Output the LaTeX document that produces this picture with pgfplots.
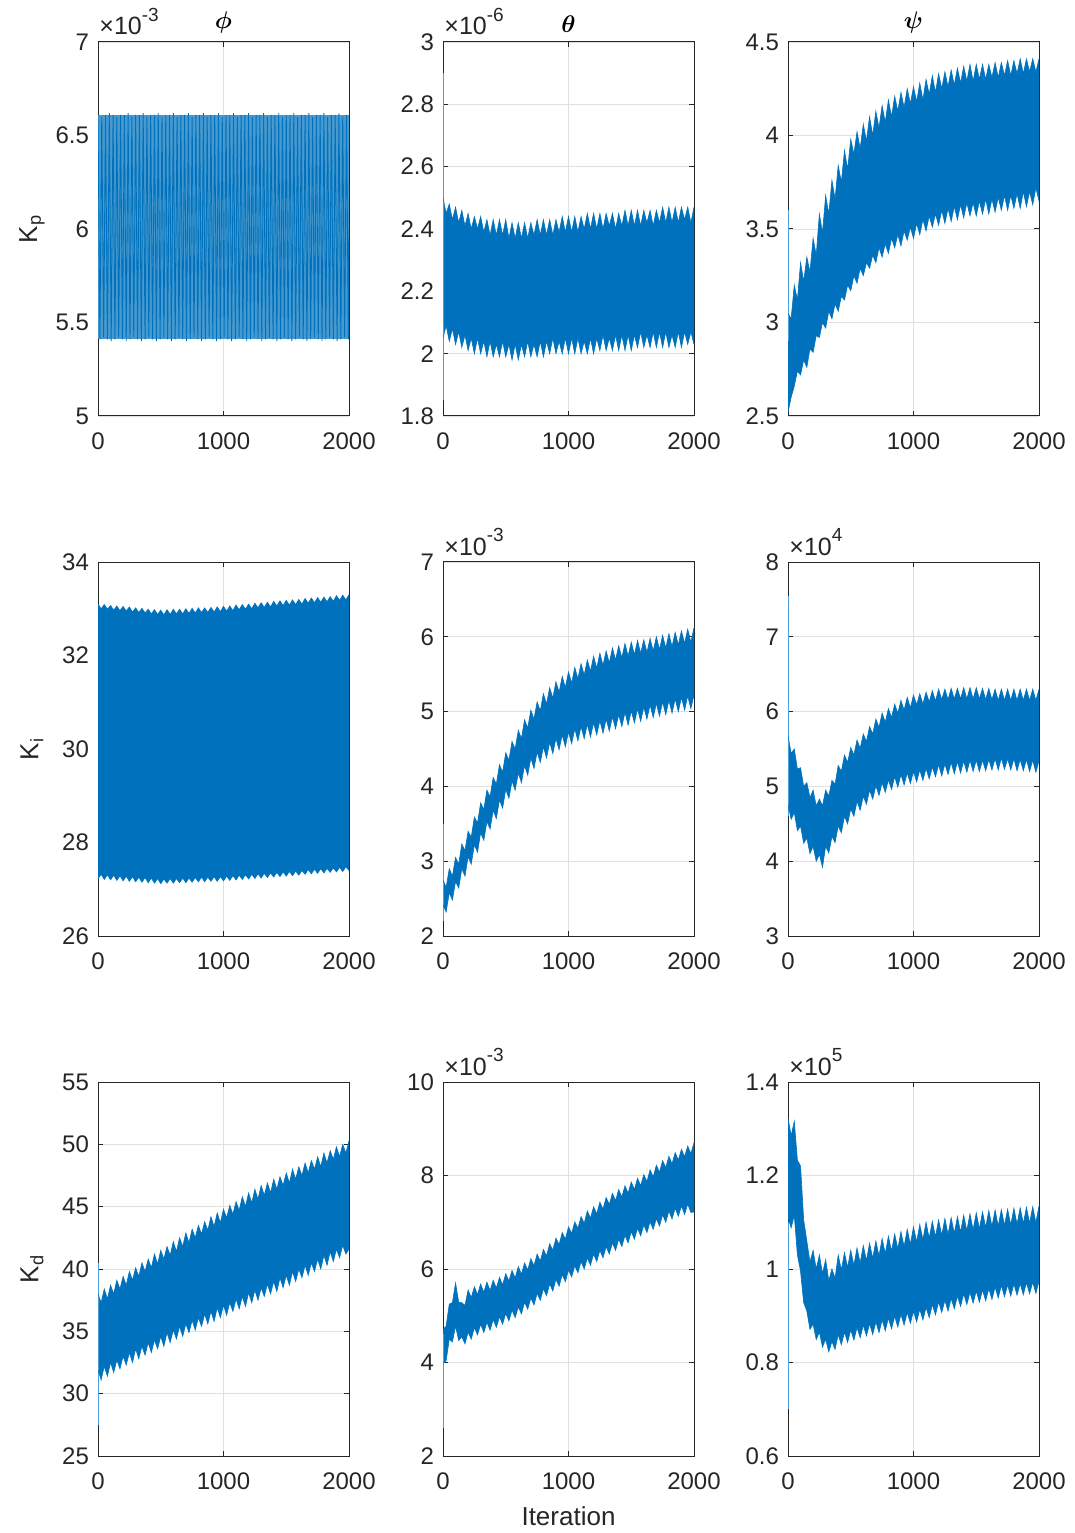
\documentclass[border=0pt]{standalone}
\usepackage{fontspec}
\setmainfont{Liberation Sans}
\usepackage{bm}
\usepackage{pgfplots}
\usepackage{pgfplotstable}
\usepgfplotslibrary{groupplots,fillbetween}
\pgfplotsset{compat=1.18}

\definecolor{mblue}{RGB}{0,114,189}
\definecolor{mspike}{RGB}{77,160,220}
\definecolor{axgray}{RGB}{38,38,38}

% Envelopes (upper u, lower l) of the gain histories, sampled every 25 iterations
% phi, Kp (x 1e-3): outer bounds of the oscillation
\pgfplotstableread{
x u l
0 6.61 5.41
2000 6.61 5.41
}\tPhiKp

% theta, Kp (x 1e-6)
\pgfplotstableread{
x u l
0 2.50 2.05
25 2.45 2.09
50 2.48 2.04
75 2.43 2.08
100 2.47 2.03
125 2.42 2.07
150 2.46 2.02
175 2.41 2.06
200 2.45 2.01
225 2.40 2.05
250 2.44 2.00
275 2.40 2.05
300 2.44 2.00
325 2.39 2.04
350 2.43 1.99
375 2.38 2.04
400 2.43 1.99
425 2.38 2.03
450 2.43 1.99
475 2.38 2.04
500 2.43 1.99
525 2.37 2.03
550 2.42 1.98
575 2.37 2.03
600 2.42 1.98
625 2.37 2.03
650 2.42 1.99
675 2.37 2.04
700 2.42 1.99
725 2.38 2.03
750 2.43 1.99
775 2.38 2.04
800 2.43 1.99
825 2.38 2.04
850 2.43 2.00
875 2.38 2.05
900 2.43 2.00
925 2.39 2.04
950 2.44 2.00
975 2.39 2.05
1000 2.44 2.00
1025 2.39 2.05
1050 2.44 2.00
1075 2.39 2.05
1100 2.44 2.00
1125 2.40 2.04
1150 2.45 2.00
1175 2.40 2.05
1200 2.45 2.00
1225 2.40 2.05
1250 2.45 2.01
1275 2.40 2.06
1300 2.45 2.01
1325 2.41 2.05
1350 2.45 2.01
1375 2.40 2.06
1400 2.45 2.01
1425 2.41 2.06
1450 2.46 2.01
1475 2.41 2.06
1500 2.46 2.01
1525 2.41 2.06
1550 2.46 2.02
1575 2.41 2.07
1600 2.46 2.02
1625 2.42 2.06
1650 2.46 2.02
1675 2.41 2.07
1700 2.46 2.02
1725 2.42 2.07
1750 2.47 2.02
1775 2.42 2.07
1800 2.47 2.02
1825 2.42 2.06
1850 2.47 2.02
1875 2.42 2.07
1900 2.47 2.02
1925 2.43 2.07
1950 2.47 2.03
1975 2.42 2.07
2000 2.47 2.03
}\tThetaKp

% psi, Kp
\pgfplotstableread{
x u l
0 3.05 2.52
25 3.02 2.60
50 3.20 2.66
75 3.12 2.74
100 3.32 2.72
125 3.22 2.80
150 3.35 2.76
175 3.27 2.86
200 3.45 2.84
225 3.36 2.93
250 3.58 2.92
275 3.48 3.00
300 3.68 2.97
325 3.58 3.06
350 3.76 3.02
375 3.66 3.10
400 3.84 3.06
425 3.75 3.14
450 3.92 3.12
475 3.82 3.20
500 3.98 3.17
525 3.90 3.25
550 4.02 3.21
575 3.93 3.29
600 4.06 3.25
625 3.97 3.32
650 4.10 3.29
675 4.00 3.36
700 4.13 3.32
725 4.04 3.40
750 4.16 3.35
775 4.07 3.42
800 4.19 3.37
825 4.10 3.45
850 4.21 3.40
875 4.13 3.47
900 4.23 3.41
925 4.15 3.49
950 4.25 3.44
975 4.17 3.51
1000 4.26 3.45
1025 4.18 3.53
1050 4.28 3.47
1075 4.19 3.55
1100 4.30 3.49
1125 4.22 3.57
1150 4.32 3.51
1175 4.23 3.58
1200 4.33 3.52
1225 4.25 3.60
1250 4.34 3.53
1275 4.26 3.61
1300 4.35 3.54
1325 4.27 3.62
1350 4.36 3.55
1375 4.28 3.63
1400 4.37 3.56
1425 4.29 3.64
1450 4.38 3.57
1475 4.29 3.64
1500 4.38 3.57
1525 4.30 3.65
1550 4.38 3.58
1575 4.30 3.66
1600 4.38 3.58
1625 4.31 3.66
1650 4.39 3.59
1675 4.31 3.67
1700 4.39 3.60
1725 4.32 3.68
1750 4.40 3.60
1775 4.32 3.68
1800 4.40 3.61
1825 4.33 3.69
1850 4.41 3.61
1875 4.33 3.70
1900 4.41 3.62
1925 4.34 3.70
1950 4.41 3.63
1975 4.34 3.72
2000 4.41 3.65
}\tPsiKp

% phi, Ki
\pgfplotstableread{
x u l
0 33.10 27.22
25 33.00 27.32
50 33.09 27.21
75 32.99 27.31
100 33.07 27.20
125 32.97 27.30
150 33.06 27.19
175 32.96 27.29
200 33.05 27.18
225 32.95 27.28
250 33.04 27.17
275 32.93 27.27
300 33.02 27.16
325 32.92 27.26
350 33.01 27.15
375 32.91 27.25
400 32.99 27.14
425 32.89 27.24
450 32.98 27.13
475 32.88 27.23
500 32.97 27.12
525 32.87 27.22
550 32.98 27.13
575 32.88 27.23
600 32.99 27.13
625 32.89 27.23
650 32.99 27.14
675 32.89 27.24
700 33.00 27.14
725 32.90 27.24
750 33.01 27.15
775 32.91 27.25
800 33.02 27.16
825 32.92 27.26
850 33.02 27.16
875 32.92 27.26
900 33.03 27.17
925 32.93 27.27
950 33.04 27.17
975 32.94 27.27
1000 33.05 27.18
1025 32.95 27.28
1050 33.06 27.19
1075 32.96 27.29
1100 33.08 27.20
1125 32.98 27.30
1150 33.09 27.21
1175 32.99 27.31
1200 33.10 27.22
1225 33.00 27.32
1250 33.12 27.23
1275 33.02 27.33
1300 33.13 27.24
1325 33.03 27.34
1350 33.14 27.25
1375 33.04 27.35
1400 33.16 27.26
1425 33.06 27.36
1450 33.17 27.27
1475 33.07 27.37
1500 33.18 27.28
1525 33.08 27.38
1550 33.19 27.29
1575 33.09 27.39
1600 33.20 27.30
1625 33.10 27.40
1650 33.22 27.32
1675 33.12 27.42
1700 33.23 27.33
1725 33.13 27.43
1750 33.24 27.34
1775 33.14 27.44
1800 33.25 27.35
1825 33.15 27.45
1850 33.26 27.36
1875 33.16 27.46
1900 33.28 27.37
1925 33.18 27.47
1950 33.29 27.38
1975 33.19 27.48
2000 33.30 27.40
}\tPhiKi

% theta, Ki (x 1e-3)
\pgfplotstableread{
x u l
0 2.75 2.42
25 2.65 2.32
50 2.90 2.58
75 2.80 2.48
100 3.05 2.73
125 2.96 2.64
150 3.23 2.90
175 3.14 2.80
200 3.40 3.06
225 3.32 2.96
250 3.59 3.22
275 3.51 3.12
300 3.78 3.38
325 3.69 3.28
350 3.95 3.53
375 3.86 3.43
400 4.12 3.68
425 4.03 3.57
450 4.29 3.82
475 4.19 3.71
500 4.45 3.96
525 4.35 3.84
550 4.60 4.07
575 4.50 3.95
600 4.75 4.18
625 4.64 4.05
650 4.89 4.28
675 4.78 4.15
700 5.02 4.38
725 4.90 4.24
750 5.13 4.46
775 5.01 4.32
800 5.24 4.53
825 5.10 4.38
850 5.32 4.59
875 5.18 4.44
900 5.40 4.64
925 5.26 4.49
950 5.47 4.69
975 5.32 4.53
1000 5.53 4.73
1025 5.38 4.57
1050 5.59 4.77
1075 5.44 4.61
1100 5.64 4.80
1125 5.49 4.64
1150 5.69 4.83
1175 5.54 4.66
1200 5.74 4.85
1225 5.58 4.69
1250 5.78 4.88
1275 5.62 4.71
1300 5.81 4.90
1325 5.65 4.74
1350 5.85 4.93
1375 5.69 4.77
1400 5.88 4.96
1425 5.72 4.80
1450 5.91 4.99
1475 5.74 4.82
1500 5.93 5.01
1525 5.76 4.85
1550 5.95 5.04
1575 5.78 4.87
1600 5.96 5.06
1625 5.79 4.90
1650 5.98 5.09
1675 5.81 4.92
1700 6.00 5.11
1725 5.83 4.94
1750 6.02 5.13
1775 5.85 4.96
1800 6.04 5.15
1825 5.87 4.98
1850 6.06 5.17
1875 5.89 5.00
1900 6.08 5.19
1925 5.91 5.02
1950 6.10 5.21
1975 5.93 5.04
2000 6.12 5.22
}\tThetaKi

% psi, Ki (x 1e4)
\pgfplotstableread{
x u l
0 5.68 4.76
25 5.44 4.56
50 5.50 4.65
75 5.23 4.41
100 5.25 4.47
125 5.00 4.24
150 5.05 4.31
175 4.85 4.10
200 4.95 4.20
225 4.74 4.00
250 4.83 4.09
275 4.74 3.92
300 4.95 4.20
325 4.87 4.11
350 5.08 4.33
375 5.03 4.25
400 5.28 4.47
425 5.20 4.38
450 5.42 4.60
475 5.32 4.50
500 5.52 4.70
525 5.42 4.60
550 5.62 4.80
575 5.51 4.68
600 5.70 4.87
625 5.60 4.76
650 5.80 4.95
675 5.70 4.83
700 5.90 5.01
725 5.79 4.88
750 5.98 5.05
775 5.86 4.92
800 6.04 5.09
825 5.92 4.96
850 6.10 5.13
875 5.98 4.99
900 6.15 5.16
925 6.02 5.02
950 6.19 5.18
975 6.05 5.04
1000 6.22 5.20
1025 6.09 5.06
1050 6.24 5.22
1075 6.10 5.08
1100 6.26 5.24
1125 6.13 5.10
1150 6.28 5.26
1175 6.14 5.13
1200 6.30 5.29
1225 6.16 5.14
1250 6.30 5.30
1275 6.16 5.16
1300 6.31 5.32
1325 6.17 5.17
1350 6.31 5.33
1375 6.17 5.18
1400 6.32 5.34
1425 6.17 5.19
1450 6.32 5.35
1475 6.17 5.20
1500 6.32 5.35
1525 6.17 5.20
1550 6.31 5.35
1575 6.16 5.21
1600 6.31 5.36
1625 6.16 5.22
1650 6.30 5.37
1675 6.15 5.22
1700 6.30 5.38
1725 6.15 5.23
1750 6.30 5.37
1775 6.15 5.22
1800 6.30 5.37
1825 6.15 5.21
1850 6.30 5.36
1875 6.15 5.21
1900 6.30 5.36
1925 6.15 5.20
1950 6.30 5.35
1975 6.15 5.19
2000 6.30 5.34
}\tPsiKi

% phi, Kd
\pgfplotstableread{
x u l
0 38.0 31.9
25 37.3 31.1
50 38.4 32.2
75 37.6 31.4
100 38.7 32.5
125 38.0 31.7
150 39.1 32.7
175 38.4 32.0
200 39.4 33.0
225 38.7 32.3
250 39.8 33.3
275 39.1 32.5
300 40.1 33.6
325 39.4 32.8
350 40.5 33.8
375 39.8 33.1
400 40.8 34.1
425 40.1 33.3
450 41.2 34.3
475 40.4 33.6
500 41.5 34.6
525 40.8 33.8
550 41.8 34.9
575 41.1 34.1
600 42.2 35.1
625 41.4 34.4
650 42.5 35.4
675 41.8 34.6
700 42.9 35.6
725 42.1 34.9
750 43.2 35.9
775 42.5 35.1
800 43.5 36.1
825 42.8 35.4
850 43.8 36.4
875 43.1 35.6
900 44.2 36.6
925 43.4 35.8
950 44.5 36.9
975 43.7 36.1
1000 44.8 37.1
1025 44.1 36.3
1050 45.1 37.3
1075 44.4 36.6
1100 45.4 37.6
1125 44.7 36.8
1150 45.8 37.8
1175 45.0 37.0
1200 46.1 38.1
1225 45.3 37.3
1250 46.4 38.3
1275 45.6 37.5
1300 46.7 38.5
1325 45.9 37.8
1350 46.9 38.8
1375 46.1 38.0
1400 47.2 39.0
1425 46.4 38.2
1450 47.4 39.3
1475 46.7 38.5
1500 47.7 39.5
1525 46.9 38.7
1550 48.0 39.8
1575 47.2 39.0
1600 48.2 40.0
1625 47.5 39.3
1650 48.5 40.3
1675 47.7 39.5
1700 48.7 40.5
1725 48.0 39.8
1750 49.0 40.8
1775 48.2 40.0
1800 49.3 41.1
1825 48.5 40.3
1850 49.5 41.4
1875 48.8 40.6
1900 49.8 41.6
1925 49.0 40.9
1950 50.0 41.9
1975 49.3 41.2
2000 50.3 41.6
}\tPhiKd

% theta, Kd (x 1e-3)
\pgfplotstableread{
x u l
0 4.70 3.98
25 4.78 4.04
50 5.25 4.50
75 5.28 4.44
100 5.70 4.78
125 5.29 4.47
150 5.28 4.55
175 5.22 4.40
200 5.55 4.65
225 5.39 4.50
250 5.62 4.75
275 5.45 4.59
300 5.68 4.82
325 5.50 4.64
350 5.72 4.86
375 5.54 4.69
400 5.76 4.92
425 5.59 4.75
450 5.82 4.98
475 5.66 4.82
500 5.90 5.05
525 5.74 4.89
550 5.97 5.12
575 5.81 4.96
600 6.05 5.19
625 5.89 5.04
650 6.13 5.29
675 5.98 5.14
700 6.22 5.38
725 6.07 5.23
750 6.32 5.48
775 6.17 5.33
800 6.42 5.58
825 6.28 5.43
850 6.54 5.68
875 6.40 5.53
900 6.66 5.78
925 6.52 5.63
950 6.78 5.88
975 6.64 5.73
1000 6.90 5.98
1025 6.76 5.83
1050 7.01 6.07
1075 6.87 5.92
1100 7.12 6.16
1125 6.98 6.00
1150 7.24 6.24
1175 7.09 6.08
1200 7.33 6.32
1225 7.18 6.16
1250 7.43 6.40
1275 7.28 6.24
1300 7.53 6.48
1325 7.38 6.32
1350 7.62 6.56
1375 7.46 6.40
1400 7.70 6.64
1425 7.54 6.48
1450 7.78 6.72
1475 7.62 6.56
1500 7.86 6.80
1525 7.70 6.64
1550 7.94 6.87
1575 7.78 6.71
1600 8.02 6.94
1625 7.87 6.78
1650 8.12 7.01
1675 7.97 6.85
1700 8.22 7.08
1725 8.07 6.92
1750 8.32 7.16
1775 8.17 7.00
1800 8.41 7.24
1825 8.25 7.07
1850 8.49 7.30
1875 8.33 7.13
1900 8.56 7.35
1925 8.40 7.17
1950 8.63 7.39
1975 8.47 7.21
2000 8.70 7.22
}\tThetaKd

% psi, Kd (x 1e5)
\pgfplotstableread{
x u l
0 1.323 1.110
25 1.285 1.088
50 1.316 1.115
75 1.233 1.030
100 1.220 0.995
125 1.105 0.928
150 1.060 0.910
175 1.015 0.871
200 1.040 0.882
225 1.000 0.849
250 1.030 0.865
275 0.990 0.833
300 1.020 0.850
325 0.975 0.823
350 1.000 0.845
375 0.980 0.828
400 1.030 0.860
425 0.998 0.838
450 1.035 0.865
475 1.003 0.843
500 1.040 0.870
525 1.008 0.848
550 1.045 0.875
575 1.013 0.853
600 1.050 0.880
625 1.018 0.857
650 1.055 0.883
675 1.023 0.860
700 1.060 0.887
725 1.028 0.864
750 1.065 0.891
775 1.033 0.868
800 1.070 0.895
825 1.038 0.872
850 1.075 0.899
875 1.043 0.876
900 1.080 0.903
925 1.048 0.880
950 1.085 0.907
975 1.053 0.884
1000 1.090 0.910
1025 1.058 0.887
1050 1.095 0.914
1075 1.063 0.891
1100 1.100 0.918
1125 1.066 0.896
1150 1.102 0.924
1175 1.069 0.902
1200 1.105 0.930
1225 1.072 0.907
1250 1.108 0.933
1275 1.074 0.910
1300 1.110 0.937
1325 1.076 0.915
1350 1.112 0.942
1375 1.079 0.920
1400 1.115 0.947
1425 1.082 0.924
1450 1.118 0.950
1475 1.084 0.927
1500 1.120 0.953
1525 1.086 0.929
1550 1.122 0.955
1575 1.089 0.932
1600 1.125 0.958
1625 1.091 0.935
1650 1.126 0.961
1675 1.092 0.938
1700 1.127 0.965
1725 1.093 0.941
1750 1.128 0.966
1775 1.094 0.942
1800 1.130 0.968
1825 1.096 0.944
1850 1.131 0.969
1875 1.097 0.945
1900 1.132 0.971
1925 1.098 0.947
1950 1.133 0.972
1975 1.099 0.948
2000 1.135 0.974
}\tPsiKd

\pgfplotsset{
  gainpanel/.style={
    scale only axis, width=125.5pt, height=187pt,
    xmin=0, xmax=2000, xtick={0,1000,2000},
    grid=major, grid style={color=black!12, line width=0.4pt},
    axis line style={color=axgray, line width=0.5pt},
    tick align=inside, major tick length=2.5pt,
    tick style={color=axgray, line width=0.5pt},
    /pgf/number format/assume math mode=true,
    /pgf/number format/set thousands separator={},
    scaled y ticks=false,
    yticklabel style={/pgf/number format/fixed},
    ticklabel style={font=\fontsize{12}{14}\selectfont, text=axgray},
    xticklabel style={yshift=-5pt},
    yticklabel style={xshift=-1pt},
    label style={font=\fontsize{13}{15}\selectfont, text=axgray},
    ylabel style={at={(axis description cs:-0.263,0.5)}, anchor=center},
    title style={font=\fontsize{13}{15}\selectfont, yshift=-5pt},
    clip mode=individual,
  },
  band/.style={mblue, line width=0.3pt},
  spike/.style={mspike, line width=0.6pt},
}

% common exponent written above the top-left corner of an axis
\newcommand{\scalelabel}[1]{%
  \node[anchor=base west, inner sep=0pt, text=axgray,
        font=\fontsize{12.5}{14}\selectfont]
    at ([xshift=0.5pt,yshift=3.5pt]rel axis cs:0,1)
    {×10\raisebox{0.55em}{\fontsize{9.5}{11}\selectfont #1}};}

% upper/lower envelope of a table, filled in between
\newcommand{\gainband}[1]{%
  \addplot[band, name path=up] table[x=x,y=u]{#1};
  \addplot[band, name path=lo] table[x=x,y=l]{#1};
  \addplot[fill=mblue, draw=none] fill between[of=up and lo];}

\begin{document}
\begin{tikzpicture}
\begin{groupplot}[
  group style={group size=3 by 3, horizontal sep=47pt, vertical sep=73pt},
  gainpanel]

% ---- row 1: Kp ----
\nextgroupplot[ymin=5, ymax=7, ytick={5,5.5,6,6.5,7},
  ylabel={K\textsubscript{p}}, title={$\bm{\phi}$}]
\addplot[draw=none, name path=up] table[x=x,y=u]{\tPhiKp};
\addplot[draw=none, name path=lo] table[x=x,y=l]{\tPhiKp};
\addplot[fill=mblue!72!white, draw=none] fill between[of=up and lo];
\addplot[mblue, line width=0.45pt] coordinates {
(0,6.61)(15,5.41)(30,6.60)(45,5.42)(60,6.61)(75,5.41)(90,6.62)(105,5.40)(120,6.61)(135,5.41)
(150,6.60)(165,5.42)(180,6.61)(195,5.41)(210,6.61)(225,5.40)(240,6.62)(255,5.41)(270,6.60)(285,5.42)
(300,6.61)(315,5.41)(330,6.61)(345,5.40)(360,6.62)(375,5.41)(390,6.60)(405,5.42)(420,6.61)(435,5.41)
(450,6.61)(465,5.40)(480,6.62)(495,5.41)(510,6.60)(525,5.42)(540,6.61)(555,5.41)(570,6.61)(585,5.40)
(600,6.62)(615,5.41)(630,6.60)(645,5.42)(660,6.61)(675,5.41)(690,6.61)(705,5.40)(720,6.62)(735,5.41)
(750,6.60)(765,5.42)(780,6.61)(795,5.41)(810,6.61)(825,5.40)(840,6.62)(855,5.41)(870,6.60)(885,5.42)
(900,6.61)(915,5.41)(930,6.61)(945,5.40)(960,6.62)(975,5.41)(990,6.60)(1005,5.42)(1020,6.61)(1035,5.41)
(1050,6.61)(1065,5.40)(1080,6.62)(1095,5.41)(1110,6.60)(1125,5.42)(1140,6.61)(1155,5.41)(1170,6.61)(1185,5.40)
(1200,6.62)(1215,5.41)(1230,6.60)(1245,5.42)(1260,6.61)(1275,5.41)(1290,6.61)(1305,5.40)(1320,6.62)(1335,5.41)
(1350,6.60)(1365,5.42)(1380,6.61)(1395,5.41)(1410,6.61)(1425,5.40)(1440,6.62)(1455,5.41)(1470,6.60)(1485,5.42)
(1500,6.61)(1515,5.41)(1530,6.61)(1545,5.40)(1560,6.62)(1575,5.41)(1590,6.60)(1605,5.42)(1620,6.61)(1635,5.41)
(1650,6.61)(1665,5.40)(1680,6.62)(1695,5.41)(1710,6.60)(1725,5.42)(1740,6.61)(1755,5.41)(1770,6.61)(1785,5.40)
(1800,6.62)(1815,5.41)(1830,6.60)(1845,5.42)(1860,6.61)(1875,5.41)(1890,6.61)(1905,5.40)(1920,6.62)(1935,5.41)
(1950,6.60)(1965,5.42)(1980,6.61)(1995,5.41)(2000,6.00)};
\scalelabel{-3}

\nextgroupplot[ymin=1.8, ymax=3, ytick={1.8,2,2.2,2.4,2.6,2.8,3},
  title={$\bm{\theta}$}]
\addplot[spike] coordinates {(3,1.85)(3,2.90)};
\gainband{\tThetaKp}
\scalelabel{-6}

\nextgroupplot[ymin=2.5, ymax=4.5, ytick={2.5,3,3.5,4,4.5},
  title={$\bm{\psi}$}]
\addplot[spike] coordinates {(3,2.9)(3,3.6)};
\gainband{\tPsiKp}

% ---- row 2: Ki ----
\nextgroupplot[ymin=26, ymax=34, ytick={26,28,30,32,34},
  ylabel={K\textsubscript{i}}]
\gainband{\tPhiKi}

\nextgroupplot[ymin=2, ymax=7, ytick={2,3,4,5,6,7}]
\addplot[spike] coordinates {(3,2.2)(3,3.5)};
\gainband{\tThetaKi}
\scalelabel{-3}

\nextgroupplot[ymin=3, ymax=8, ytick={3,4,5,6,7,8}]
\addplot[spike] coordinates {(3,4.6)(3,7.55)};
\gainband{\tPsiKi}
\scalelabel{4}

% ---- row 3: Kd ----
\nextgroupplot[ymin=25, ymax=55, ytick={25,30,35,40,45,50,55},
  ylabel={K\textsubscript{d}}]
\addplot[spike] coordinates {(3,27.5)(3,40.5)};
\gainband{\tPhiKd}

\nextgroupplot[ymin=2, ymax=10, ytick={2,4,6,8,10},
  xlabel={Iteration},
  xlabel style={at={(axis description cs:0.5,0)}, anchor=center, yshift=-30pt}]
\addplot[spike] coordinates {(3,2.6)(3,4.6)};
\gainband{\tThetaKd}
\scalelabel{-3}

\nextgroupplot[ymin=0.6, ymax=1.4, ytick={0.6,0.8,1,1.2,1.4}]
\addplot[spike] coordinates {(3,0.70)(3,1.10)};
\gainband{\tPsiKd}
\scalelabel{5}

\end{groupplot}
\pgfresetboundingbox
\path[use as bounding box]
  ([shift={(-49pt,21pt)}]group c1r1.north west) rectangle
  ([shift={(18pt,-38.5pt)}]group c3r3.south east);
\end{tikzpicture}
\end{document}
